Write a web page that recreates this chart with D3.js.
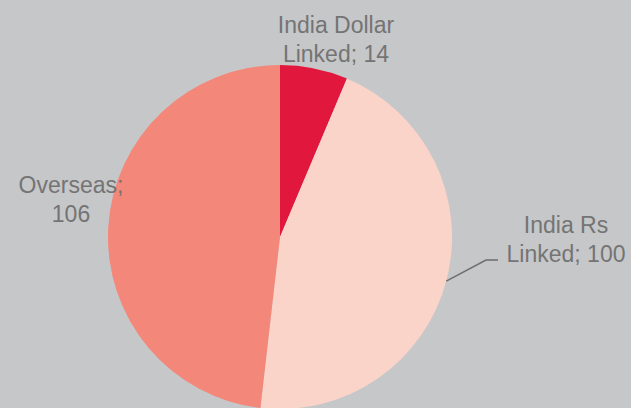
<!DOCTYPE html>
<html><head><meta charset="utf-8">
<script src="https://cdn.jsdelivr.net/npm/d3@7"></script>
<style>html,body{margin:0;padding:0;background:#C6C7C9;}svg{display:block;}</style>
</head><body>
<script>
const categories = ["India Dollar Linked", "India Rs Linked", "Overseas"];
const values = [14, 100, 106];
const labelLines = [["India Dollar", "Linked; 14"], ["India Rs", "Linked; 100"], ["Overseas;", "106"]];
const colors = ["#E2173D", "#FBD4C9", "#F38779"];

const W = 631, H = 408;
const svg = d3.select("body").append("svg").attr("width", W).attr("height", H);
svg.append("rect").attr("width", W).attr("height", H).attr("fill", "#C6C7C9");

const cx = 280, cy = 237, r = 172;
const pie = d3.pie().sort(null).value(d => d)(values);
const arc = d3.arc().innerRadius(0).outerRadius(r);
const g = svg.append("g").attr("transform", `translate(${cx},${cy})`);
g.selectAll("path").data(pie).join("path")
  .attr("d", arc).attr("fill", (d, i) => colors[i]);

// labels
const labelPos = [[336, 33], [566, 233], [71, 193]];
const lineH = 29;
labelLines.forEach((lines, i) => {
  const t = svg.append("text").attr("text-anchor", "middle")
    .attr("font-family", "Liberation Sans, Arial, sans-serif")
    .attr("font-size", 23).attr("fill", "#747474");
  lines.forEach((ln, j) => {
    t.append("tspan").attr("x", labelPos[i][0]).attr("y", labelPos[i][1] + j * lineH).text(ln);
  });
});

// leader line for India Rs slice
const ang = 1.83; // point on arc where leader starts
const p0 = [cx + r * Math.sin(ang), cy - r * Math.cos(ang)];
svg.append("polyline")
  .attr("points", `${p0[0]},${p0[1]} 486,260 498,260`)
  .attr("fill", "none").attr("stroke", "#6E6E6E").attr("stroke-width", 1.5);
</script>
</body></html>
